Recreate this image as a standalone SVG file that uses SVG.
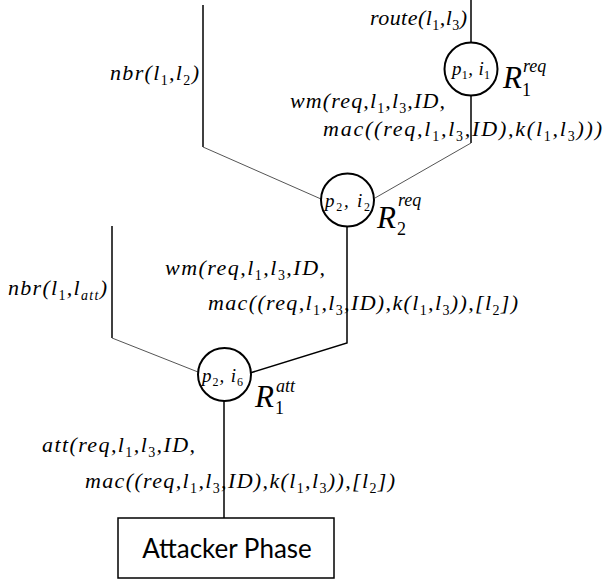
<svg xmlns="http://www.w3.org/2000/svg" width="604" height="580" viewBox="0 0 604 580">
<style>
.m{font-family:"Liberation Serif","DejaVu Serif",serif;font-style:italic;font-size:22px;fill:#000}
.s{font-size:14px;font-style:normal}
.si{font-size:14px}
.n{font-family:"Liberation Serif","DejaVu Serif",serif;font-style:italic;font-size:19px;fill:#000}
.ns{font-size:12px;font-style:normal}
.R{font-family:"Liberation Serif","DejaVu Serif",serif;font-style:italic;font-size:31px;fill:#000}
.Rs{font-size:18px;font-style:normal}
.Rp{font-size:18px}
.v{stroke:#000;stroke-width:1.5;fill:none}
.d{stroke:#555;stroke-width:1;fill:none}
.c{fill:#fff;stroke:#000;stroke-width:2}
.box{fill:#fff;stroke:#000;stroke-width:1.5}
.bt{font-family:Lato,"Open Sans",sans-serif;font-size:26px;fill:#000}
</style>
<g id="labels">
<text class="m" x="370" y="25" textLength="97" lengthAdjust="spacing">route(l<tspan class="s" dy="5">1</tspan><tspan dy="-5">,l</tspan><tspan class="s" dy="5">3</tspan><tspan dy="-5">)</tspan></text>
<text class="m" x="110" y="80" textLength="89" lengthAdjust="spacing">nbr(l<tspan class="s" dy="5">1</tspan><tspan dy="-5">,l</tspan><tspan class="s" dy="5">2</tspan><tspan dy="-5">)</tspan></text>
<text class="m" x="290" y="108" textLength="155" lengthAdjust="spacing">wm(req,l<tspan class="s" dy="5">1</tspan><tspan dy="-5">,l</tspan><tspan class="s" dy="5">3</tspan><tspan dy="-5">,ID,</tspan></text>
<text class="m" x="323" y="136" textLength="279" lengthAdjust="spacing">mac((req,l<tspan class="s" dy="5">1</tspan><tspan dy="-5">,l</tspan><tspan class="s" dy="5">3</tspan><tspan dy="-5">,ID),k(l</tspan><tspan class="s" dy="5">1</tspan><tspan dy="-5">,l</tspan><tspan class="s" dy="5">3</tspan><tspan dy="-5">)))</tspan></text>
<text class="m" x="165" y="275" textLength="160" lengthAdjust="spacing">wm(req,l<tspan class="s" dy="5">1</tspan><tspan dy="-5">,l</tspan><tspan class="s" dy="5">3</tspan><tspan dy="-5">,ID,</tspan></text>
<text class="m" x="208" y="310" textLength="310" lengthAdjust="spacing">mac((req,l<tspan class="s" dy="5">1</tspan><tspan dy="-5">,l</tspan><tspan class="s" dy="5">3</tspan><tspan dy="-5">,ID),k(l</tspan><tspan class="s" dy="5">1</tspan><tspan dy="-5">,l</tspan><tspan class="s" dy="5">3</tspan><tspan dy="-5">)),[l</tspan><tspan class="s" dy="5">2</tspan><tspan dy="-5">])</tspan></text>
<text class="m" x="8" y="295" textLength="99" lengthAdjust="spacing">nbr(l<tspan class="s" dy="5">1</tspan><tspan dy="-5">,l</tspan><tspan class="si" dy="5">att</tspan><tspan dy="-5">)</tspan></text>
<text class="m" x="42" y="452" textLength="153" lengthAdjust="spacing">att(req,l<tspan class="s" dy="5">1</tspan><tspan dy="-5">,l</tspan><tspan class="s" dy="5">3</tspan><tspan dy="-5">,ID,</tspan></text>
<text class="m" x="85" y="488" textLength="310" lengthAdjust="spacing">mac((req,l<tspan class="s" dy="5">1</tspan><tspan dy="-5">,l</tspan><tspan class="s" dy="5">3</tspan><tspan dy="-5">,ID),k(l</tspan><tspan class="s" dy="5">1</tspan><tspan dy="-5">,l</tspan><tspan class="s" dy="5">3</tspan><tspan dy="-5">)),[l</tspan><tspan class="s" dy="5">2</tspan><tspan dy="-5">])</tspan></text>
</g>
<g id="connectors">
<path class="v" d="M471,0 V43"/>
<path class="v" d="M471,96 V143"/>
<path class="d" d="M471,143 L375,198"/>
<path class="v" d="M203,5 V147"/>
<path class="d" d="M203,147 L321,199"/>
<path class="v" d="M347,227 V343 L250,373"/>
<path class="v" d="M112,226 V338"/>
<path class="d" d="M112,338 L198,372"/>
<path class="v" d="M224,401 V518"/>
</g>
<g id="R1req">
<circle class="c" cx="471" cy="69" r="26.5"/>
<text class="n" x="452" y="75" textLength="38" lengthAdjust="spacing">p<tspan class="ns" dy="4">1</tspan><tspan dy="-4">, i</tspan><tspan class="ns" dy="4">1</tspan></text>
<text class="R" x="503" y="88">R</text>
<text class="R"><tspan class="Rs" x="522" y="96">1</tspan><tspan class="Rp" x="523" y="72">req</tspan></text>
</g>
<g id="R2req">
<circle class="c" cx="347.5" cy="200" r="26.5"/>
<text class="n" x="325" y="207" textLength="45" lengthAdjust="spacing">p<tspan class="ns" dy="4">2</tspan><tspan dy="-4">, i</tspan><tspan class="ns" dy="4">2</tspan></text>
<text class="R" x="377" y="228">R</text>
<text class="R"><tspan class="Rs" x="397" y="235">2</tspan><tspan class="Rp" x="398" y="206">req</tspan></text>
</g>
<g id="R1att">
<circle class="c" cx="224.5" cy="374.5" r="26.5"/>
<text class="n" x="202" y="382" textLength="41" lengthAdjust="spacing">p<tspan class="ns" dy="4">2</tspan><tspan dy="-4">, i</tspan><tspan class="ns" dy="4">6</tspan></text>
<text class="R" x="255" y="407">R</text>
<text class="R"><tspan class="Rs" x="275" y="414">1</tspan><tspan class="Rp" x="276" y="392">att</tspan></text>
</g>
<g id="attacker">
<rect class="box" x="118" y="518" width="216" height="60"/>
<text class="bt" x="227" y="558" text-anchor="middle">Attacker Phase</text>
</g>
</svg>
